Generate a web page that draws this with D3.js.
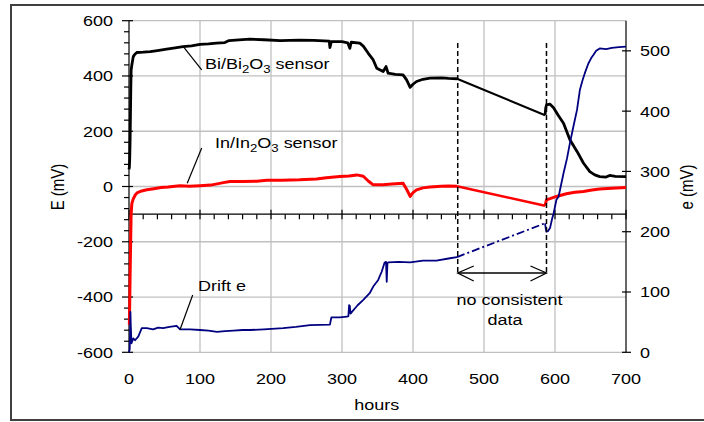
<!DOCTYPE html>
<html>
<head>
<meta charset="utf-8">
<script src="https://cdn.jsdelivr.net/npm/d3@7"></script>
<style>
  body { margin: 0; background: #fff; }
  svg { display: block; }
</style>
</head>
<body>
<div id="chart"></div>
<script>
// sensor potentials E (mV) vs hours
const biBefore = [
    [0, 62], [0.5, 70], [1, 100], [1.5, 160], [2, 250], [2.5, 350], [3, 420], [4, 440],
    [5, 455], [6, 470], [8, 478], [11, 485], [20, 486], [30, 488], [40, 492], [53, 497],
    [65, 502], [76, 506], [88, 509], [100, 514], [112, 516], [123, 519], [135, 521],
    [141, 528], [150, 530], [170, 533], [190, 531], [213, 528], [240, 530], [260, 529],
    [282, 526], [283, 503], [285, 524], [300, 524], [308, 520], [311, 500], [313, 522],
    [325, 519], [330, 508], [337, 482], [344, 458], [349, 428], [358, 416], [362, 434],
    [365, 410], [375, 406], [386, 404], [391, 386], [396, 359], [400, 370], [405, 380],
    [414, 388], [424, 392], [440, 393], [450, 391], [462, 390]
];
const biGap = [[462, 390], [586, 258]];
const biAfter = [
    [586, 258], [587, 285], [588, 295], [593, 298], [598, 285], [604, 260], [612, 229],
    [621, 169], [631, 127], [640, 85], [649, 54], [656, 42], [663, 36], [672, 34],
    [677, 40], [685, 37], [700, 36]
];

const inBefore = [
    [0.5, -500], [1, -420], [1.5, -330], [2, -250], [2.5, -170], [3, -100], [4, -62],
    [6, -45], [9, -30], [12, -22], [18, -16], [25, -12], [35, -8], [45, -4], [55, -2],
    [65, 1], [72, 3], [85, 1], [100, 3], [115, 5], [133, 14], [142, 18], [160, 18],
    [180, 19], [194, 23], [215, 23], [240, 24], [264, 27], [278, 32], [297, 36],
    [310, 38], [321, 42], [330, 37], [337, 20], [344, 6], [358, 6], [370, 9], [386, 12],
    [391, -10], [396, -36], [400, -22], [405, -12], [414, -5], [424, -2], [440, 1],
    [450, 2], [462, 1]
];
const inGap = [[462, 1], [586, -70]];
const inAfter = [
    [586, -70], [588, -48], [593, -44], [602, -36], [616, -26], [628, -21], [640, -18],
    [652, -13], [663, -9], [680, -6], [700, -4]
];

// drift e (mV), right axis
const driftBefore = [
    [0, 0], [1, 5], [1.5, 30], [2, 67], [2.5, 45], [3.5, 15], [6, 23], [8.5, 20],
    [13, 26], [18, 40], [25, 40], [34, 38], [41, 41], [48, 40], [57, 42], [67, 44],
    [72, 38], [86, 38], [100, 37], [112, 36], [124, 34], [135, 35], [147, 36],
    [160, 37], [170, 37], [190, 38], [217, 40], [235, 42], [255, 45], [283, 46],
    [285, 58], [297, 58], [307, 59], [309, 60], [310, 78], [311, 77], [312, 64],
    [314, 67], [322, 78], [330, 87], [339, 98], [344, 109], [351, 120], [356, 134],
    [360, 149], [362, 150], [363, 117], [364, 148], [365, 149], [380, 150], [396, 149],
    [414, 152], [433, 152], [452, 156], [462, 158]
];
const driftGap = [[462, 158], [586, 214]];
const driftAfter = [
    [586, 214], [587, 205], [588, 200], [590, 201], [593, 206], [596, 222], [598, 230],
    [602, 253], [605, 258], [612, 297], [617, 322], [621, 347], [626, 375], [631, 402],
    [635, 435], [639, 452], [642, 463], [647, 479], [651, 488], [654, 493], [658, 500],
    [663, 504], [672, 503], [680, 505], [690, 506], [700, 507]
];

const hourTicks = [0, 100, 200, 300, 400, 500, 600, 700];
const eTicks = [-600, -400, -200, 0, 200, 400, 600];
const driftTicks = [0, 100, 200, 300, 400, 500];

const W = 704, H = 422;
const SX = 1.2; // the original text is stretched horizontally
const FONT = "'Liberation Sans', Arial, sans-serif";

const svg = d3.select("#chart").append("svg")
    .attr("width", W).attr("height", H)
    .style("font-family", FONT)
    .style("font-size", "15px");

const x = d3.scaleLinear().domain([0, 700]).range([129, 626]);
const yE = d3.scaleLinear().domain([-600, 600]).range([352.3, 20.7]);
const yDrift = d3.scaleLinear().domain([0, 550]).range([352.3, 20.7]);

function addText(parent, px, py, str, anchor, rot) {
    return parent.append("text")
        .attr("transform", `translate(${px},${py}) scale(${SX},1)` + (rot ? ` rotate(${rot})` : ""))
        .attr("text-anchor", anchor || "start")
        .attr("fill", "#000")
        .text(str);
}

// outer frame (runs off the right edge like the original)
svg.append("rect")
    .attr("x", 11).attr("y", 5).attr("width", 760).attr("height", 415)
    .attr("fill", "none").attr("stroke", "#404040").attr("stroke-width", 2);

// gridlines + plot border
const grid = svg.append("g").attr("stroke", "#c0c0c0").attr("stroke-width", 1.3);
hourTicks.slice(1, -1).forEach(h => {
    grid.append("line").attr("x1", x(h)).attr("x2", x(h)).attr("y1", yE(600)).attr("y2", yE(-600));
});
eTicks.forEach(v => {
    grid.append("line").attr("x1", x(0)).attr("x2", x(700)).attr("y1", yE(v)).attr("y2", yE(v));
});

// axes
const axes = svg.append("g").attr("stroke", "#000").attr("stroke-width", 1.2);
axes.append("line").attr("x1", x(0)).attr("x2", x(0)).attr("y1", yE(600)).attr("y2", yE(-600));
axes.append("line").attr("x1", x(700)).attr("x2", x(700)).attr("y1", yE(600)).attr("y2", yE(-600));
axes.append("line").attr("x1", x(0)).attr("x2", x(700)).attr("y1", yE(-100)).attr("y2", yE(-100));

d3.range(-600, 601, 40).forEach(v => {
    const major = eTicks.includes(v);
    axes.append("line")
        .attr("x1", x(0) - (major ? 7 : 5)).attr("x2", x(0) + (major ? 4 : 0))
        .attr("y1", yE(v)).attr("y2", yE(v));
});
d3.range(0, 701, 20).forEach(h => {
    const major = hourTicks.includes(h);
    axes.append("line")
        .attr("x1", x(h)).attr("x2", x(h))
        .attr("y1", yE(-100) - (major ? 4.5 : 0)).attr("y2", yE(-100) + 5);
});
driftTicks.forEach(v => {
    axes.append("line")
        .attr("x1", x(700) - 4).attr("x2", x(700) + 5)
        .attr("y1", yDrift(v)).attr("y2", yDrift(v));
});

// tick labels
const labels = svg.append("g");
eTicks.forEach(v => addText(labels, 113, yE(v) + 5.4, String(v), "end"));
driftTicks.forEach(v => addText(labels, 640, yDrift(v) + 5.4, String(v), "start"));
hourTicks.forEach(h => addText(labels, x(h), 384, String(h), "middle"));

addText(labels, 376.7, 410, "hours", "middle");
addText(labels, 64, 187, "E (mV)", "middle", -90);
addText(labels, 693, 187, "e (mV)", "middle", -90);

// series
const lineE = d3.line().x(d => x(d[0])).y(d => yE(d[1]));
const lineD = d3.line().x(d => x(d[0])).y(d => yDrift(d[1]));
const series = svg.append("g").attr("fill", "none").attr("stroke-linejoin", "round");

series.append("path").datum(biBefore).attr("d", lineE).attr("stroke", "#000").attr("stroke-width", 2.8);
series.append("path").datum(biGap).attr("d", lineE).attr("stroke", "#000").attr("stroke-width", 2);
series.append("path").datum(biAfter).attr("d", lineE).attr("stroke", "#000").attr("stroke-width", 2.8);

series.append("path").datum(inBefore).attr("d", lineE).attr("stroke", "#ff0000").attr("stroke-width", 3);
series.append("path").datum(inGap).attr("d", lineE).attr("stroke", "#ff0000").attr("stroke-width", 2.5);
series.append("path").datum(inAfter).attr("d", lineE).attr("stroke", "#ff0000").attr("stroke-width", 3);

series.append("path").datum(driftBefore).attr("d", lineD).attr("stroke", "#000080").attr("stroke-width", 1.8);
series.append("path").datum(driftGap).attr("d", lineD).attr("stroke", "#000080").attr("stroke-width", 1.8)
    .attr("stroke-dasharray", "8,3,2,3");
series.append("path").datum(driftAfter).attr("d", lineD).attr("stroke", "#000080").attr("stroke-width", 1.8);

// annotations
const ann = svg.append("g").attr("stroke", "#000").attr("stroke-width", 1.2).attr("fill", "none");

// leader lines
ann.append("line").attr("x1", x(76.5)).attr("y1", yE(506)).attr("x2", x(102.4)).attr("y2", yE(422));
ann.append("line").attr("x1", x(82)).attr("y1", yE(12)).attr("x2", x(102.4)).attr("y2", yE(139));
ann.append("line").attr("x1", x(71.8)).attr("y1", yDrift(37.5)).attr("x2", x(89.7)).attr("y2", yDrift(95));

// dashed markers for the gap
[463, 588].forEach(h => {
    ann.append("line")
        .attr("x1", x(h)).attr("x2", x(h))
        .attr("y1", yE(519)).attr("y2", yE(-313))
        .attr("stroke-width", 1.5).attr("stroke-dasharray", "5,3");
});

// double-headed arrow
const ay = yE(-313), ax1 = x(463), ax2 = x(588);
ann.append("line").attr("x1", ax1).attr("x2", ax2).attr("y1", ay).attr("y2", ay).attr("stroke-width", 1.5);
ann.append("path").attr("d", `M${ax1 + 16},${ay - 7}L${ax1},${ay}L${ax1 + 16},${ay + 8}`).attr("stroke-width", 1.3);
ann.append("path").attr("d", `M${ax2 - 16},${ay - 7}L${ax2},${ay}L${ax2 - 16},${ay + 8}`).attr("stroke-width", 1.3);

// series labels
function subLabel(px, py, parts) {
    const t = addText(labels, px, py, null, "start");
    parts.forEach(([s, sub]) => {
        t.append("tspan")
            .attr("font-size", sub ? 11 : 15)
            .attr("dy", sub ? 4 : (t.node().childNodes.length ? -4 : 0))
            .text(s);
    });
}
subLabel(205, 72.7, [["Bi/Bi", false], ["2", true], ["O", false], ["3", true], [" sensor", false]]);
subLabel(215, 151.7, [["In/In", false], ["2", true], ["O", false], ["3", true], [" sensor", false]]);
addText(labels, 198, 290.7, "Drift e", "start");
addText(labels, 509.5, 305, "no consistent", "middle");
addText(labels, 505, 325, "data", "middle");
</script>
</body>
</html>
